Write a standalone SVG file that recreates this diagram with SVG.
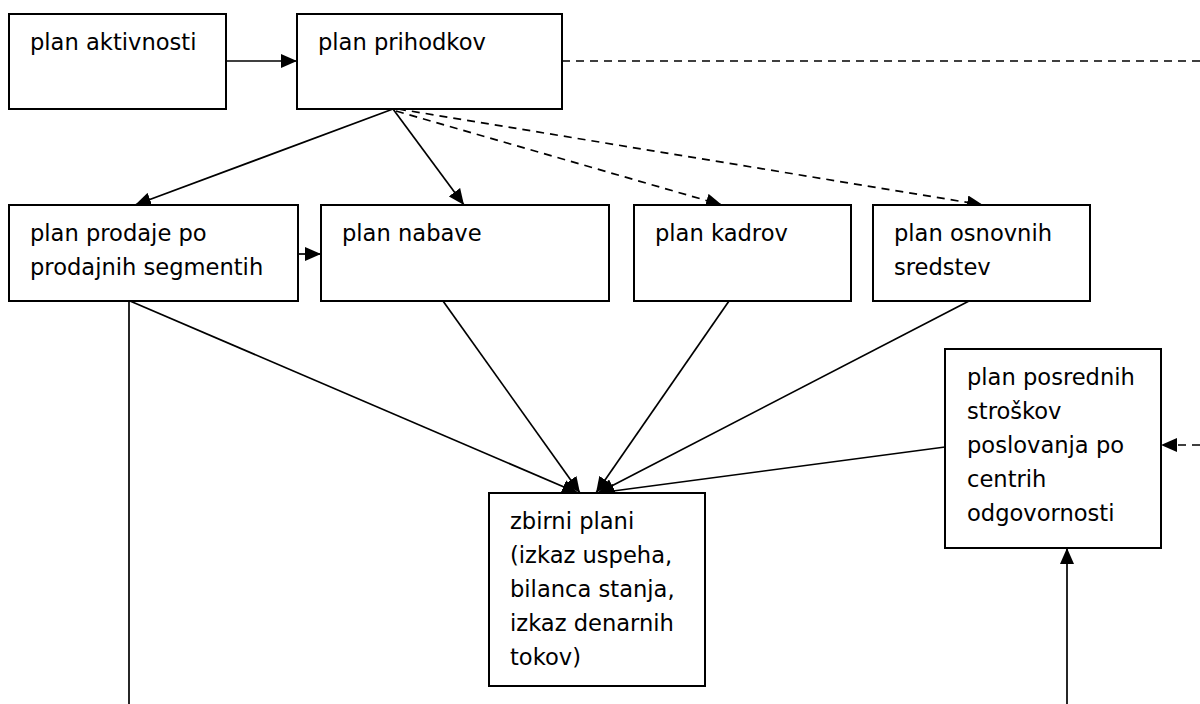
<svg xmlns="http://www.w3.org/2000/svg" width="1200" height="704" viewBox="0 0 1200 704">
  <style>
    .box { fill: #fff; stroke: #000; stroke-width: 2; }
    .lbl { font-family: "DejaVu Sans", Tahoma, Verdana, sans-serif; font-size: 22.6px; fill: #000; }
    .ln { fill: none; stroke: #000; stroke-width: 1.7; }
    .dash { stroke-dasharray: 8 6; }
  </style>
  <defs>
    <marker id="arrow" markerUnits="userSpaceOnUse" markerWidth="16" markerHeight="14" refX="16" refY="7" orient="auto">
      <path d="M0,0 L16,7 L0,14 Z" fill="#000"/>
    </marker>
  </defs>

  <rect width="1200" height="704" fill="#fff"/>

  <!-- connectors -->
  <g id="connectors">
    <line class="ln" x1="226" y1="61" x2="297" y2="61" marker-end="url(#arrow)"/>
    <line class="ln dash" x1="562" y1="61" x2="1200" y2="61"/>
    <line class="ln" x1="393" y1="109" x2="135" y2="205" marker-end="url(#arrow)"/>
    <line class="ln" x1="393" y1="109" x2="464" y2="205" marker-end="url(#arrow)"/>
    <line class="ln dash" x1="396" y1="111" x2="722" y2="205" marker-end="url(#arrow)"/>
    <line class="ln dash" x1="398" y1="109" x2="983" y2="205" marker-end="url(#arrow)"/>
    <line class="ln" x1="298" y1="254" x2="321" y2="254" marker-end="url(#arrow)"/>
    <line class="ln" x1="130" y1="301" x2="578" y2="493" marker-end="url(#arrow)"/>
    <line class="ln" x1="443" y1="301" x2="580" y2="493" marker-end="url(#arrow)"/>
    <line class="ln" x1="729" y1="301" x2="596" y2="493" marker-end="url(#arrow)"/>
    <line class="ln" x1="969" y1="301" x2="598" y2="493" marker-end="url(#arrow)"/>
    <line class="ln" x1="945" y1="447" x2="598" y2="493" marker-end="url(#arrow)"/>
    <line class="ln dash" x1="1200" y1="445" x2="1161" y2="445" marker-end="url(#arrow)"/>
    <line class="ln" x1="129" y1="301" x2="129" y2="704"/>
    <line class="ln" x1="1067" y1="704" x2="1067" y2="548" marker-end="url(#arrow)"/>
  </g>

  <g id="plan-aktivnosti">
    <rect class="box" x="9" y="14" width="217" height="95"/>
    <text class="lbl" x="30" y="50">plan aktivnosti</text>
  </g>

  <g id="plan-prihodkov">
    <rect class="box" x="297" y="14" width="265" height="95"/>
    <text class="lbl" x="318" y="50">plan prihodkov</text>
  </g>

  <g id="plan-prodaje">
    <rect class="box" x="9" y="205" width="289" height="96"/>
    <text class="lbl" x="30" y="241">plan prodaje po</text>
    <text class="lbl" x="30" y="275">prodajnih segmentih</text>
  </g>

  <g id="plan-nabave">
    <rect class="box" x="321" y="205" width="288" height="96"/>
    <text class="lbl" x="342" y="241">plan nabave</text>
  </g>

  <g id="plan-kadrov">
    <rect class="box" x="634" y="205" width="217" height="96"/>
    <text class="lbl" x="655" y="241">plan kadrov</text>
  </g>

  <g id="plan-osnovnih-sredstev">
    <rect class="box" x="873" y="205" width="217" height="96"/>
    <text class="lbl" x="894" y="241">plan osnovnih</text>
    <text class="lbl" x="894" y="275">sredstev</text>
  </g>

  <g id="plan-posrednih-stroskov">
    <rect class="box" x="945" y="349" width="216" height="199"/>
    <text class="lbl" x="967" y="385">plan posrednih</text>
    <text class="lbl" x="967" y="419">stroškov</text>
    <text class="lbl" x="967" y="453">poslovanja po</text>
    <text class="lbl" x="967" y="487">centrih</text>
    <text class="lbl" x="967" y="521">odgovornosti</text>
  </g>

  <g id="zbirni-plani">
    <rect class="box" x="489" y="493" width="216" height="193"/>
    <text class="lbl" x="510" y="529">zbirni plani</text>
    <text class="lbl" x="510" y="563">(izkaz uspeha,</text>
    <text class="lbl" x="510" y="597">bilanca stanja,</text>
    <text class="lbl" x="510" y="631">izkaz denarnih</text>
    <text class="lbl" x="510" y="665">tokov)</text>
  </g>
</svg>
